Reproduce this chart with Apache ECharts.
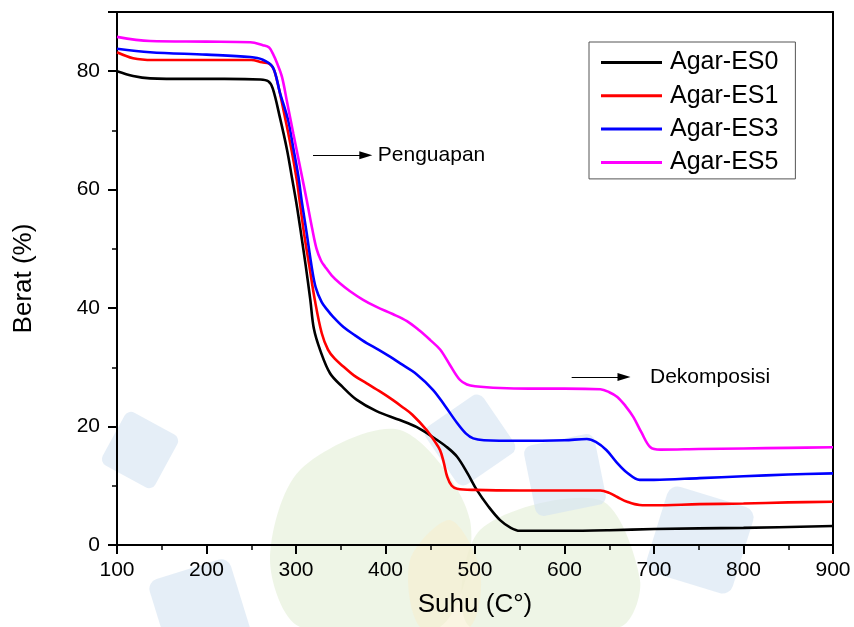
<!DOCTYPE html>
<html>
<head>
<meta charset="utf-8">
<script src="https://cdn.jsdelivr.net/npm/echarts@6/dist/echarts.min.js"></script>
<style>
html,body{margin:0;padding:0;background:#fff;}
#chart{width:854px;height:627px;}
</style>
</head>
<body>
<div id="chart"></div>
<script>
const seriesNames = ['Agar-ES0', 'Agar-ES1', 'Agar-ES3', 'Agar-ES5'];
const seriesColors = ['#000000', '#ff0000', '#0000ff', '#ff00ff'];

const es0Temp = [100, 118, 137, 180, 220, 260, 269, 274, 282, 290, 295.5, 301, 306, 311, 316, 320, 327, 338, 352, 368, 390, 416, 435, 453, 468, 480, 492, 502, 515, 528, 540, 550, 600, 650, 700, 800, 900];
const es0Wt   = [80.0, 79.2, 78.8, 78.7, 78.7, 78.6, 78.3, 77.1, 72.2, 66.7, 62.0, 57.2, 52.2, 47.0, 41.4, 36.5, 32.9, 29.0, 26.7, 24.5, 22.6, 21.1, 19.9, 18.2, 16.6, 14.9, 12.0, 9.3, 6.5, 4.2, 2.9, 2.4, 2.4, 2.5, 2.7, 2.9, 3.2];

const es1Temp = [100, 118, 140, 200, 250, 262, 270, 276, 287.7, 295, 300.7, 304, 309, 315, 321, 328.7, 335.7, 343, 352.5, 365, 379, 395, 408, 418, 430, 446, 455, 461, 465, 469, 474, 480, 500, 550, 600, 640, 650, 659, 670, 684, 700, 751, 800, 850, 900];
const es1Wt   = [83.2, 82.2, 81.9, 81.9, 81.9, 81.5, 81.3, 80.0, 72.2, 66.7, 61.8, 58.2, 52.6, 47.0, 41.4, 35.8, 33.0, 31.5, 30.2, 28.6, 27.3, 25.8, 24.5, 23.4, 22.0, 19.4, 17.5, 16.0, 14.0, 11.5, 10.0, 9.5, 9.3, 9.2, 9.2, 9.2, 8.8, 8.1, 7.3, 6.75, 6.7, 6.9, 7.0, 7.2, 7.3];

const es2Temp = [100, 137, 200, 249, 262, 274, 282, 291.4, 297, 302.6, 306.3, 312, 317.5, 322, 328.7, 335, 341, 353, 366, 379, 392, 405, 416, 435, 453, 466, 480, 490, 498, 510, 550, 600, 625, 635, 647, 658, 670, 684, 700, 751, 800, 850, 900];
const es2Wt   = [83.8, 83.2, 82.8, 82.4, 82.0, 80.7, 76.4, 71.6, 67.0, 62.3, 58.2, 52.6, 47.0, 43.5, 41.0, 39.7, 38.6, 36.8, 35.4, 34.1, 33.0, 31.8, 30.7, 28.8, 26.2, 23.6, 20.6, 18.8, 18.0, 17.7, 17.6, 17.7, 17.9, 17.4, 16.0, 14.0, 12.2, 11.0, 11.0, 11.3, 11.6, 11.9, 12.1];

const es3Temp = [100, 137, 200, 249, 263, 270, 274, 279, 284.4, 290, 297, 305, 312, 318, 323, 328, 332.4, 340, 349, 360, 375, 390, 408, 424, 438, 450, 461, 472, 483, 491, 500, 528, 560, 600, 640, 650, 659, 668, 677, 686, 696, 707, 750, 800, 850, 900];
const es3Wt   = [85.8, 85.1, 85.0, 84.9, 84.4, 84.0, 83.0, 81.3, 79.0, 74.8, 69.5, 63.5, 58.2, 53.5, 50.0, 48.0, 47.0, 45.5, 44.2, 42.9, 41.4, 40.2, 39.0, 37.8, 36.2, 34.6, 33.0, 30.4, 27.9, 27.1, 26.8, 26.5, 26.4, 26.4, 26.3, 25.8, 25.0, 23.5, 21.6, 19.0, 16.5, 16.1, 16.2, 16.3, 16.4, 16.5];

const xTicks = { min: 100, max: 900, interval: 100 };
const yTicks = { min: 0, max: 90, interval: 20 };

const annotations = [
  { text: 'Penguapan', from: [319, 65.8], to: [378, 65.8], gap: 12 },
  { text: 'Dekomposisi', from: [608, 28.35], to: [666.5, 28.35], gap: 26 }
];

const temps = [es0Temp, es1Temp, es2Temp, es3Temp];
const weights = [es0Wt, es1Wt, es2Wt, es3Wt];

const FONT = 'Liberation Sans, Arial, sans-serif';

const series = seriesNames.map((name, i) => ({
  name: name,
  type: 'line',
  data: temps[i].map((t, j) => [t, weights[i][j]]),
  showSymbol: false,
  smooth: 0.35,
  lineStyle: { width: 2.6, color: seriesColors[i] },
  itemStyle: { color: seriesColors[i] },
  z: 3 + i,
  animation: false
}));

series[0].markLine = {
  silent: true,
  animation: false,
  symbol: ['none', 'triangle'],
  symbolSize: [8, 13],
  lineStyle: { color: '#000', width: 1, type: 'solid' },
  data: annotations.map(a => [
    { coord: a.from, label: { show: true, position: 'end', formatter: a.text, distance: a.gap, color: '#000', fontSize: 21, fontFamily: FONT } },
    { coord: a.to }
  ])
};

// faint background watermark (decorative logo)
const wmBlue = '#d3e3f2', wmGreen = '#e2eed6', wmYellow = '#f6efcf';
function tile(cx, cy, s, rot, color) {
  return { type: 'rect', x: cx, y: cy, originX: 0, originY: 0, rotation: rot,
    shape: { x: -s / 2, y: -s / 2, width: s, height: s, r: s * 0.12 },
    style: { fill: color, opacity: 0.6 }, silent: true, z: -10 };
}
function poly(points, color) {
  return { type: 'polygon', shape: { points: points, smooth: 0.3 }, style: { fill: color, opacity: 0.6 }, silent: true, z: -11 };
}
const watermark = [
  poly([[300, 470], [400, 430], [470, 520], [440, 627], [300, 627], [270, 560]], wmGreen),
  poly([[480, 530], [600, 500], [640, 580], [620, 627], [470, 627]], wmGreen),
  poly([[410, 560], [450, 520], [480, 570], [470, 627], [420, 627]], wmYellow),
  tile(470, 440, 70, 0.6, wmBlue),
  tile(565, 475, 72, 0.2, wmBlue),
  tile(700, 540, 90, -0.3, wmBlue),
  tile(200, 610, 85, 0.3, wmBlue),
  tile(140, 450, 60, -0.5, wmBlue)
];

const chart = echarts.init(document.getElementById('chart'), null, { renderer: 'canvas' });
chart.setOption({
  backgroundColor: '#ffffff',
  animation: false,
  graphic: watermark,
  grid: { left: 117, right: 21, top: 12, bottom: 82, containLabel: false },
  legend: {
    orient: 'vertical',
    left: 589,
    top: 42,
    data: seriesNames,
    icon: 'rect',
    itemWidth: 61,
    itemHeight: 3,
    itemGap: 8.3,
    padding: [8, 17, 4, 12],
    backgroundColor: '#ffffff',
    borderColor: '#555',
    borderWidth: 1,
    textStyle: { fontSize: 25, fontFamily: FONT, color: '#000', padding: [0, 0, 0, 3], lineHeight: 25 }
  },
  xAxis: [
    {
      type: 'value',
      min: xTicks.min, max: xTicks.max, interval: xTicks.interval,
      name: 'Suhu (C°)',
      nameLocation: 'middle',
      nameGap: 47,
      nameTextStyle: { fontSize: 26, fontFamily: FONT, color: '#000' },
      axisLine: { show: true, onZero: false, lineStyle: { color: '#000', width: 2 } },
      axisTick: { show: true, inside: false, length: 9, lineStyle: { color: '#000', width: 2 } },
      minorTick: { show: true, splitNumber: 2, length: 5, lineStyle: { color: '#000', width: 1.5 } },
      axisLabel: { fontSize: 21, fontFamily: FONT, color: '#000', margin: 15 },
      splitLine: { show: false }
    },
    {
      type: 'value', position: 'top',
      min: xTicks.min, max: xTicks.max, interval: xTicks.interval,
      axisLine: { show: true, onZero: false, lineStyle: { color: '#000', width: 2 } },
      axisTick: { show: false }, axisLabel: { show: false }, splitLine: { show: false }
    }
  ],
  yAxis: [
    {
      type: 'value',
      min: yTicks.min, max: yTicks.max, interval: yTicks.interval,
      name: 'Berat (%)',
      nameLocation: 'middle',
      nameGap: 80,
      nameTextStyle: { fontSize: 26, fontFamily: FONT, color: '#000' },
      axisLine: { show: true, onZero: false, lineStyle: { color: '#000', width: 2 } },
      axisTick: { show: true, inside: false, length: 9, lineStyle: { color: '#000', width: 2 } },
      minorTick: { show: true, splitNumber: 2, length: 5, lineStyle: { color: '#000', width: 1.5 } },
      axisLabel: { fontSize: 21, fontFamily: FONT, color: '#000', margin: 17, showMaxLabel: false },
      splitLine: { show: false }
    },
    {
      type: 'value', position: 'right',
      min: yTicks.min, max: yTicks.max, interval: yTicks.interval,
      axisLine: { show: true, onZero: false, lineStyle: { color: '#000', width: 2 } },
      axisTick: { show: false }, axisLabel: { show: false }, splitLine: { show: false }
    }
  ],
  series: series
});
</script>
</body>
</html>
